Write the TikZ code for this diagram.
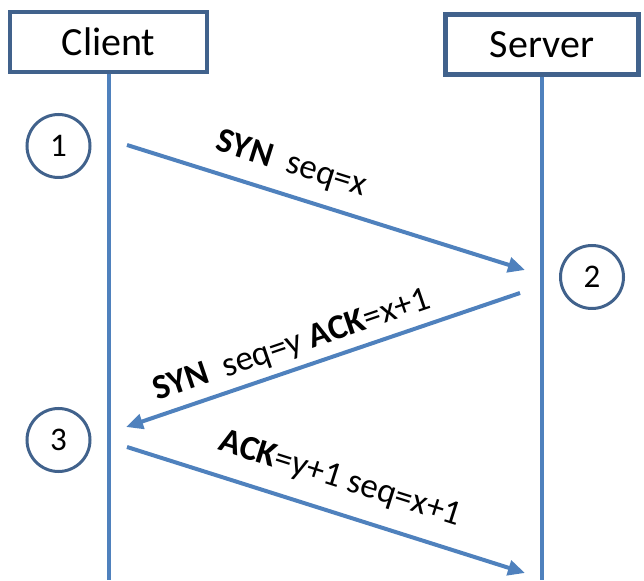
\documentclass[tikz,border=0pt]{standalone}
\usepackage{fontspec}
\setmainfont{Carlito}
\usetikzlibrary{arrows.meta}
\definecolor{boxblue}{RGB}{65,98,140}
\definecolor{lineblue}{RGB}{79,129,189}
\newcommand{\lbl}{\fontsize{35}{40}\selectfont}

\begin{document}
\begin{tikzpicture}[x=1pt,y=1pt,
   host/.style={draw=boxblue,line width=4.5pt,minimum height=60pt,inner sep=0pt,font=\fontsize{40}{48}\selectfont},
   num/.style={circle,draw=boxblue,line width=3pt,minimum size=63pt,inner sep=0pt,font=\fontsize{33}{40}\selectfont},
   life/.style={draw=lineblue,line width=4pt},
   msg/.style={draw=lineblue,line width=4pt,-{Triangle[length=17pt,width=15pt]}},
   lab/.style={sloped,inner sep=0pt,font=\lbl}]
   \useasboundingbox (0,0) rectangle (644,580);
   \node[host,minimum width=197pt] (client) at (108.5,538) {Client};
   \node[host,minimum width=193pt] (server) at (542,535.5) {Server};
   \draw[life] (client.south) -- (client.south |- 0,0);
   \draw[life] (server.south) -- (server.south |- 0,0);
   \node[num] (one) at (58.5,434) {1};
   \node[num] (two) at (592,303) {2};
   \node[num] (three) at (58.5,140) {3};
   \coordinate (c1) at (127,435);
   \coordinate (s1) at (525,310);
   \coordinate (s2) at (520,287);
   \coordinate (c2) at (126,153);
   \coordinate (c3) at (127,133);
   \coordinate (s3) at (525,7);
   \draw[msg] (c1) -- node[lab,pos=0.39,above=14pt] {\textbf{SYN}\ \ seq=x} (s1);
   \draw[msg] (s2) -- node[lab,pos=0.56,above=7pt] {\textbf{SYN}\ \ seq=y \textbf{ACK}=x+1} (c2);
   \draw[msg] (c3) -- node[lab,pos=0.51,above=17pt] {\textbf{ACK}=y+1 seq=x+1} (s3);
\end{tikzpicture}
\end{document}
